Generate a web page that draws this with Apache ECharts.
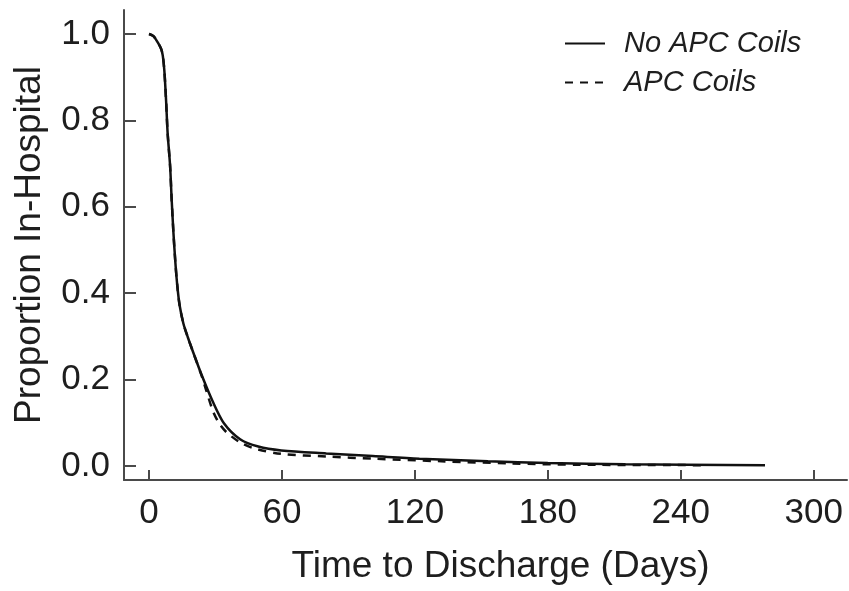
<!DOCTYPE html>
<html>
<head>
<meta charset="utf-8">
<script src="https://cdn.jsdelivr.net/npm/echarts@6/dist/echarts.min.js"></script>
<style>
html,body{margin:0;padding:0;background:#fff;}
#chart{width:849px;height:591px;}
</style>
</head>
<body>
<div id="chart"></div>
<script>
// Tick labels
const xTicks = [0, 60, 120, 180, 240, 300];
const yTicks = [0, 0.2, 0.4, 0.6, 0.8, 1.0];

// Series names
const seriesNames = ['No APC Coils', 'APC Coils'];

// No APC Coils: days and proportion in hospital
const noApcDays = [0, 2, 4, 5.5, 6.2, 6.9, 7.7, 8.4, 9.5, 10.2, 11, 11.9, 12.8, 13.8, 15.5, 17.5, 19.3, 23.8, 28.6, 33.8, 41.1, 49.3, 59.7, 80, 101, 122, 153, 180, 215, 278];
const noApcProp = [1.0, 0.995, 0.98, 0.965, 0.95, 0.916, 0.845, 0.77, 0.695, 0.618, 0.541, 0.47, 0.415, 0.372, 0.33, 0.298, 0.272, 0.21, 0.151, 0.099, 0.062, 0.045, 0.036, 0.029, 0.023, 0.017, 0.011, 0.007, 0.004, 0.002];

// APC Coils
const apcDays = [0, 2, 4, 5.5, 6.2, 6.9, 7.7, 8.4, 9.5, 10.2, 11, 11.9, 12.8, 13.8, 15.5, 17.5, 19.3, 23.8, 26, 29, 32, 35, 41, 47.2, 59.7, 80.4, 101, 132, 163, 194.5, 250];
const apcProp = [1.0, 0.995, 0.98, 0.965, 0.95, 0.916, 0.845, 0.77, 0.695, 0.618, 0.541, 0.47, 0.415, 0.372, 0.33, 0.298, 0.272, 0.208, 0.172, 0.125, 0.096, 0.078, 0.055, 0.041, 0.028, 0.022, 0.017, 0.011, 0.006, 0.003, 0.002];

const pair = (xs, ys) => xs.map((x, i) => [x, ys[i]]);

const chart = echarts.init(document.getElementById('chart'), null, {renderer: 'canvas'});
const font = 'Liberation Sans, Arial, sans-serif';
const axisColor = '#4a4a4a';
const textColor = '#1e1e1e';

chart.setOption({
  animation: false,
  backgroundColor: '#ffffff',
  grid: {left: 124, right: 2, top: 10, bottom: 111, containLabel: false},
  legend: {
    orient: 'vertical',
    left: 559,
    top: 24,
    itemWidth: 40,
    itemHeight: 14,
    itemGap: 10,
    data: seriesNames,
    itemStyle: {opacity: 0},
    textStyle: {fontFamily: font, fontSize: 29, fontStyle: 'italic', color: textColor, padding: [0, 0, 0, 14]}
  },
  xAxis: {
    type: 'value',
    min: -11.3,
    max: 315,
    name: 'Time to Discharge (Days)',
    nameLocation: 'middle',
    nameGap: 68,
    nameTextStyle: {fontFamily: font, fontSize: 37, color: textColor, padding: [0, 0, 0, 30]},
    axisLine: {show: true, onZero: false, lineStyle: {color: axisColor, width: 2}},
    axisTick: {show: true, inside: true, length: 10, customValues: xTicks, lineStyle: {color: axisColor, width: 2}},
    axisLabel: {customValues: xTicks, fontFamily: font, fontSize: 35, color: textColor, margin: 16},
    splitLine: {show: false}
  },
  yAxis: {
    type: 'value',
    min: -0.0324,
    max: 1.0556,
    name: 'Proportion In-Hospital',
    nameLocation: 'middle',
    nameGap: 76,
    nameTextStyle: {fontFamily: font, fontSize: 37, color: textColor},
    axisLine: {show: true, onZero: false, lineStyle: {color: axisColor, width: 2}},
    axisTick: {show: true, inside: true, length: 12, customValues: yTicks, lineStyle: {color: axisColor, width: 2}},
    axisLabel: {customValues: yTicks, fontFamily: font, fontSize: 35, color: textColor, margin: 14,
      formatter: v => v.toFixed(1)},
    splitLine: {show: false}
  },
  series: [
    {
      name: seriesNames[0],
      type: 'line',
      data: pair(noApcDays, noApcProp),
      symbol: 'none',
      smooth: 0.3,
      lineStyle: {color: '#111', width: 2.5, type: 'solid'},
      itemStyle: {color: '#111'},
      z: 3
    },
    {
      name: seriesNames[1],
      type: 'line',
      data: pair(apcDays, apcProp),
      symbol: 'none',
      smooth: 0.3,
      lineStyle: {color: '#111', width: 2.5, type: [8, 7]},
      itemStyle: {color: '#111'},
      z: 2
    }
  ]
});
</script>
</body>
</html>
